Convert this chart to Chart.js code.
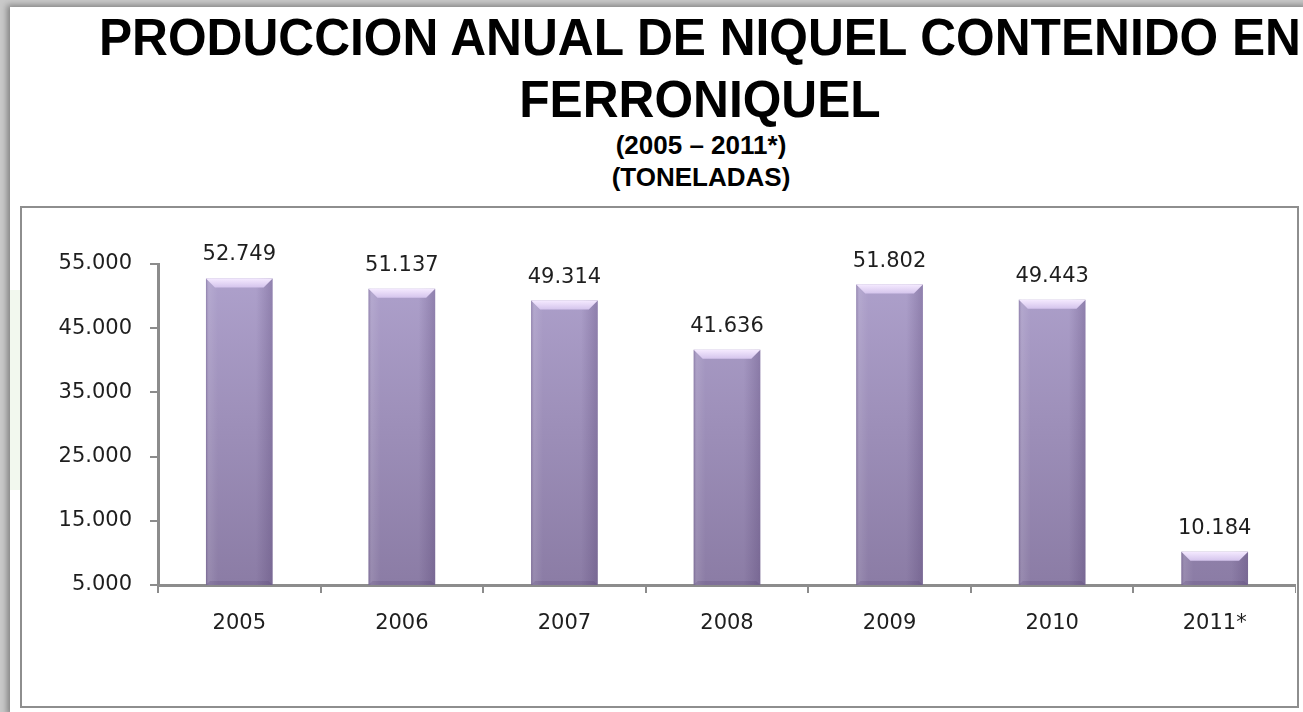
<!DOCTYPE html>
<html>
<head>
<meta charset="utf-8">
<script src="https://cdn.jsdelivr.net/npm/chart.js@4"></script>
<style>
    html, body { margin: 0; padding: 0; }
    body { width: 1303px; height: 712px; background: #c9c9c9; position: relative; overflow: hidden; }
    #page { position: absolute; left: 10px; top: 7px; width: 1300px; height: 710px; background: #fff; box-shadow: -3px -2px 6px rgba(0,0,0,0.35); }
    #green { position: absolute; left: 10px; top: 290px; width: 11px; height: 200px; background: #f2f8ee; }
    .title { position: absolute; left: 0; width: 1400px; text-align: center; font-family: "Liberation Sans", Arial, sans-serif; font-weight: bold; color: #000; white-space: nowrap; }
    #title1 { top: 6px; font-size: 52px; line-height: 62px; transform: scaleX(0.955); transform-origin: 699px 0; }
    #sub1 { top: 129px; font-size: 26px; line-height: 32px; width: 1402px; }
    #box { position: absolute; left: 20px; top: 206px; width: 1279px; height: 502px; box-sizing: border-box; border: 2px solid #8e8e8e; background: #fff; }
    #chartWrap { position: absolute; left: 22px; top: 208px; }
</style>
</head>
<body>
<div id="page"></div>
<div id="green"></div>
<div class="title" id="title1">PRODUCCION ANUAL DE NIQUEL CONTENIDO EN<br>FERRONIQUEL</div>
<div class="title" id="sub1">(2005 – 2011*)<br>(TONELADAS)</div>
<div id="box"></div>
<div id="chartWrap"><canvas id="barChart" width="1274" height="497"></canvas></div>
<script>
// values
const categories = ['2005', '2006', '2007', '2008', '2009', '2010', '2011*'];
const production = [52749, 51137, 49314, 41636, 51802, 49443, 10184];
const yMin = 5000;
const yMax = 55000;
const yStep = 10000;

document.addEventListener('DOMContentLoaded', () => {
    const ctx = document.getElementById('barChart').getContext('2d');
    const textColor = '#1e1e1e';
    const axisColor = '#8c8c8c';
    const labelFont = { family: '"DejaVu Sans", Verdana, sans-serif', size: 21 };

    function fmt(v) {
        return String(v).replace(/\B(?=(\d{3})+(?!\d))/g, '.');
    }

    // vertical fill for the bars, lighter on top
    function barFill(context) {
        const area = context.chart.chartArea;
        if (!area) return '#9c8dba';
        const g = context.chart.ctx.createLinearGradient(0, area.top, 0, area.bottom);
        g.addColorStop(0, '#afa2cd');
        g.addColorStop(1, '#8b7ca5');
        return g;
    }

    // bevel and side shading + value labels on top of each bar
    const bevelPlugin = {
        id: 'bevel',
        afterDatasetsDraw(chart) {
            const c = chart.ctx;
            const area = chart.chartArea;
            const meta = chart.getDatasetMeta(0);
            meta.data.forEach((bar, i) => {
                const left = bar.x - bar.width / 2;
                const right = bar.x + bar.width / 2;
                const top = bar.y;
                const bottom = Math.min(bar.base, area.bottom);
                const h = bottom - top;
                const bev = Math.min(9, h / 2);
                c.save();

                const side = c.createLinearGradient(left, 0, right, 0);
                side.addColorStop(0, 'rgba(70,50,100,0.30)');
                side.addColorStop(0.05, 'rgba(255,255,255,0.10)');
                side.addColorStop(0.18, 'rgba(255,255,255,0)');
                side.addColorStop(0.75, 'rgba(70,50,100,0)');
                side.addColorStop(1, 'rgba(70,50,100,0.28)');
                c.fillStyle = side;
                c.fillRect(left, top, right - left, h);

                const topG = c.createLinearGradient(0, top, 0, top + bev);
                topG.addColorStop(0, '#f5eaff');
                topG.addColorStop(1, '#d4c4ec');
                c.fillStyle = topG;
                c.beginPath();
                c.moveTo(left, top);
                c.lineTo(right, top);
                c.lineTo(right - bev, top + bev);
                c.lineTo(left + bev, top + bev);
                c.closePath();
                c.fill();

                c.fillStyle = 'rgba(60,40,90,0.15)';
                c.beginPath();
                c.moveTo(left, bottom);
                c.lineTo(right, bottom);
                c.lineTo(right - 4, bottom - 4);
                c.lineTo(left + 4, bottom - 4);
                c.closePath();
                c.fill();

                c.fillStyle = textColor;
                c.font = `${labelFont.size}px ${labelFont.family}`;
                c.textAlign = 'center';
                c.textBaseline = 'alphabetic';
                c.fillText(fmt(production[i]), bar.x, top - 18);
                c.restore();
            });
        }
    };

    new Chart(ctx, {
        type: 'bar',
        data: {
            labels: categories,
            datasets: [{
                data: production,
                backgroundColor: barFill,
                borderWidth: 0,
                barPercentage: 0.41,
                categoryPercentage: 1
            }]
        },
        options: {
            responsive: false,
            devicePixelRatio: 1,
            animation: false,
            layout: { padding: { top: 56, left: 0, right: 0, bottom: 0 } },
            plugins: {
                legend: { display: false },
                tooltip: { enabled: false }
            },
            scales: {
                x: {
                    grid: { drawOnChartArea: false, drawTicks: true, tickLength: 8, color: axisColor, lineWidth: 2 },
                    border: { color: axisColor, width: 3 },
                    ticks: { color: textColor, font: labelFont, padding: 18 },
                    afterFit: (scale) => { scale.height = 120; }
                },
                y: {
                    min: yMin,
                    max: yMax,
                    grid: { drawOnChartArea: false, drawTicks: true, tickLength: 8, color: axisColor, lineWidth: 2 },
                    border: { color: axisColor, width: 3 },
                    ticks: {
                        stepSize: yStep,
                        color: textColor,
                        font: labelFont,
                        padding: 18,
                        callback: (v) => fmt(v)
                    },
                    afterFit: (scale) => { scale.width = 136; }
                }
            }
        },
        plugins: [bevelPlugin]
    });
});
</script>
</body>
</html>
